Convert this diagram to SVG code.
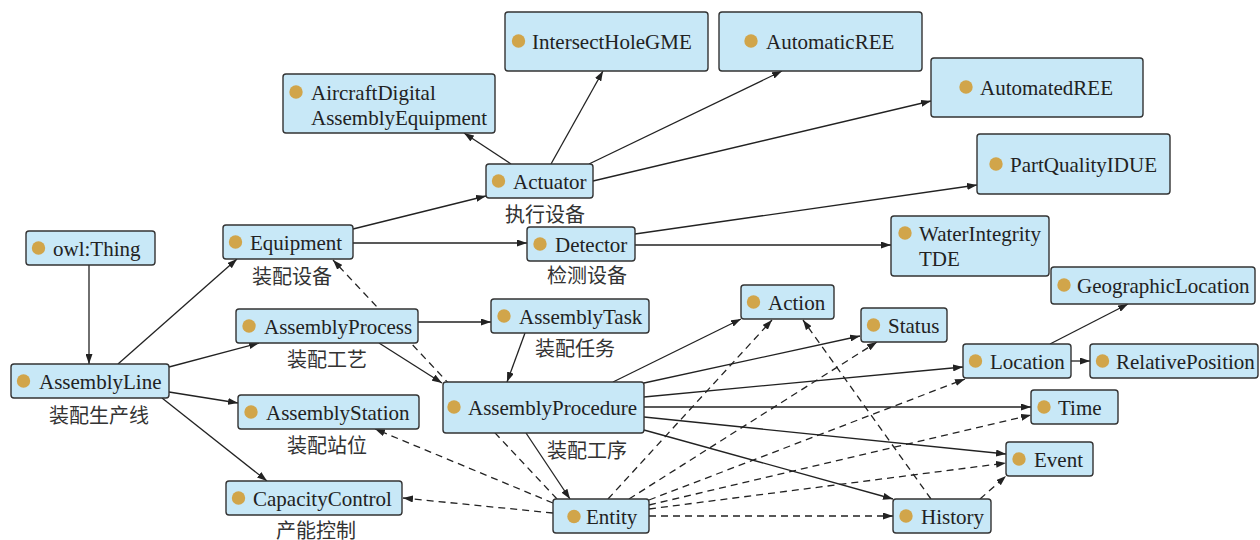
<svg xmlns="http://www.w3.org/2000/svg" width="1260" height="540" viewBox="0 0 1260 540">
  <defs>
    <marker id="arrow" viewBox="0 0 10 7" refX="10" refY="3.5" markerWidth="10" markerHeight="7" markerUnits="userSpaceOnUse" orient="auto">
      <path d="M0,0 L10,3.5 L0,7 z" fill="#222"/>
    </marker>
    <style>
      .edge { stroke: #222; stroke-width: 1.3; fill: none; marker-end: url(#arrow); }
      .dash { stroke-dasharray: 7 5; }
      .box { fill: #c8e8f7; stroke: #333; stroke-width: 1.4; }
      .dot { fill: #d1a54a; }
      .name { font-family: "Liberation Serif", "Times New Roman", serif; font-size: 21px; fill: #222; }
      .cn { font-family: "Liberation Serif", "Noto Sans CJK SC", sans-serif; font-size: 20px; fill: #333; text-anchor: middle; }
    </style>
  </defs>
  <rect width="1260" height="540" fill="#ffffff"/>

  <!-- connectors -->
  <g id="connectors">
    <line class="edge" x1="89" y1="265" x2="89" y2="364"/>
    <line class="edge" x1="118" y1="364" x2="237" y2="259"/>
    <line class="edge" x1="169" y1="367" x2="259" y2="343"/>
    <line class="edge" x1="169" y1="392" x2="238" y2="403"/>
    <line class="edge" x1="162" y1="398" x2="267" y2="481"/>
    <line class="edge" x1="353" y1="229" x2="486" y2="196"/>
    <line class="edge" x1="353" y1="243" x2="527" y2="243"/>
    <line class="edge" x1="511" y1="164" x2="464" y2="133"/>
    <line class="edge" x1="551" y1="164" x2="603" y2="71"/>
    <line class="edge" x1="589" y1="164" x2="782" y2="71"/>
    <line class="edge" x1="593" y1="181" x2="931" y2="101"/>
    <line class="edge" x1="635" y1="234" x2="977" y2="185"/>
    <line class="edge" x1="635" y1="245" x2="891" y2="245"/>
    <line class="edge" x1="418" y1="322" x2="491" y2="322"/>
    <line class="edge" x1="379" y1="343" x2="442" y2="383"/>
    <line class="edge" x1="525" y1="333" x2="507" y2="382"/>
    <line class="edge" x1="526" y1="433" x2="570" y2="499"/>
    <line class="edge" x1="613" y1="382" x2="741" y2="319"/>
    <line class="edge" x1="644" y1="383" x2="860" y2="336"/>
    <line class="edge" x1="644" y1="397" x2="963" y2="367"/>
    <line class="edge" x1="644" y1="407" x2="1031" y2="407"/>
    <line class="edge" x1="644" y1="417" x2="1006" y2="454"/>
    <line class="edge" x1="644" y1="430" x2="893" y2="499"/>
    <line class="edge" x1="1050" y1="344" x2="1128" y2="304"/>
    <line class="edge" x1="1071" y1="361" x2="1090" y2="361"/>

    <line class="edge dash" x1="557" y1="499" x2="333" y2="260"/>
    <line class="edge dash" x1="553" y1="503" x2="375" y2="429"/>
    <line class="edge dash" x1="553" y1="513" x2="403" y2="498"/>
    <line class="edge dash" x1="608" y1="499" x2="772" y2="320"/>
    <line class="edge dash" x1="629" y1="499" x2="877" y2="342"/>
    <line class="edge dash" x1="649" y1="500" x2="965" y2="379"/>
    <line class="edge dash" x1="649" y1="505" x2="1031" y2="415"/>
    <line class="edge dash" x1="649" y1="509" x2="1006" y2="463"/>
    <line class="edge dash" x1="649" y1="516" x2="893" y2="516"/>
    <line class="edge dash" x1="931" y1="499" x2="803" y2="320"/>
    <line class="edge dash" x1="980" y1="499" x2="1006" y2="476"/>
  </g>

  <!-- nodes -->
  <g id="owl-thing">
    <rect class="box" x="26" y="231" width="129" height="34" rx="3"/>
    <circle class="dot" cx="38.5" cy="248" r="6.7"/>
    <text class="name" x="53" y="255.5">owl:Thing</text>
  </g>
  <g id="assembly-line">
    <rect class="box" x="11" y="364" width="158" height="34" rx="3"/>
    <circle class="dot" cx="23.5" cy="381" r="6.7"/>
    <text class="name" x="39" y="388.5">AssemblyLine</text>
    <text class="cn" x="99" y="422.5">装配生产线</text>
  </g>
  <g id="equipment">
    <rect class="box" x="223" y="225" width="130" height="34" rx="3"/>
    <circle class="dot" cx="235.5" cy="242" r="6.7"/>
    <text class="name" x="250" y="249.5">Equipment</text>
    <text class="cn" x="292" y="284">装配设备</text>
  </g>
  <g id="assembly-process">
    <rect class="box" x="236" y="309" width="182" height="34" rx="3"/>
    <circle class="dot" cx="249" cy="326" r="6.7"/>
    <text class="name" x="264" y="333.5">AssemblyProcess</text>
    <text class="cn" x="327" y="366.5">装配工艺</text>
  </g>
  <g id="assembly-station">
    <rect class="box" x="238" y="395" width="181" height="34" rx="3"/>
    <circle class="dot" cx="251" cy="412" r="6.7"/>
    <text class="name" x="266" y="419.5">AssemblyStation</text>
    <text class="cn" x="327" y="453">装配站位</text>
  </g>
  <g id="capacity-control">
    <rect class="box" x="226" y="481" width="176" height="34" rx="3"/>
    <circle class="dot" cx="238.5" cy="498" r="6.7"/>
    <text class="name" x="253" y="505.5">CapacityControl</text>
    <text class="cn" x="316" y="537.5">产能控制</text>
  </g>
  <g id="assembly-task">
    <rect class="box" x="491" y="299" width="158" height="34" rx="3"/>
    <circle class="dot" cx="504" cy="316" r="6.7"/>
    <text class="name" x="519" y="323.5">AssemblyTask</text>
    <text class="cn" x="575" y="355.5">装配任务</text>
  </g>
  <g id="assembly-procedure">
    <rect class="box" x="443" y="382" width="201" height="51" rx="3"/>
    <circle class="dot" cx="454" cy="407" r="6.7"/>
    <text class="name" x="468" y="414.5">AssemblyProcedure</text>
    <text class="cn" x="587" y="458">装配工序</text>
  </g>
  <g id="entity">
    <rect class="box" x="553" y="499" width="96" height="34" rx="3"/>
    <circle class="dot" cx="574" cy="516.5" r="6.7"/>
    <text class="name" x="586" y="524">Entity</text>
  </g>
  <g id="actuator">
    <rect class="box" x="486" y="164" width="107" height="34" rx="3"/>
    <circle class="dot" cx="498.5" cy="181" r="6.7"/>
    <text class="name" x="513" y="188.5">Actuator</text>
    <text class="cn" x="545" y="221.5">执行设备</text>
  </g>
  <g id="detector">
    <rect class="box" x="527" y="227" width="108" height="34" rx="3"/>
    <circle class="dot" cx="540" cy="244" r="6.7"/>
    <text class="name" x="555" y="251.5">Detector</text>
    <text class="cn" x="587" y="282.5">检测设备</text>
  </g>
  <g id="aircraft-digital-assembly-equipment">
    <rect class="box" x="283" y="74" width="212" height="59" rx="3"/>
    <circle class="dot" cx="296" cy="92" r="6.7"/>
    <text class="name" x="311" y="99.5">AircraftDigital</text>
    <text class="name" x="311" y="124.5">AssemblyEquipment</text>
  </g>
  <g id="intersect-hole-gme">
    <rect class="box" x="505" y="12" width="203" height="59" rx="3"/>
    <circle class="dot" cx="518.5" cy="41" r="6.7"/>
    <text class="name" x="532" y="48.5">IntersectHoleGME</text>
  </g>
  <g id="automatic-ree">
    <rect class="box" x="719" y="12" width="203" height="59" rx="3"/>
    <circle class="dot" cx="751" cy="41" r="6.7"/>
    <text class="name" x="766" y="48.5">AutomaticREE</text>
  </g>
  <g id="automated-ree">
    <rect class="box" x="931" y="58" width="212" height="59" rx="3"/>
    <circle class="dot" cx="966" cy="87" r="6.7"/>
    <text class="name" x="980" y="94.5">AutomatedREE</text>
  </g>
  <g id="part-quality-idue">
    <rect class="box" x="977" y="134" width="193" height="60" rx="3"/>
    <circle class="dot" cx="996" cy="164" r="6.7"/>
    <text class="name" x="1010" y="171.5">PartQualityIDUE</text>
  </g>
  <g id="water-integrity-tde">
    <rect class="box" x="891" y="216" width="158" height="60" rx="3"/>
    <circle class="dot" cx="905" cy="233" r="6.7"/>
    <text class="name" x="919" y="240.5">WaterIntegrity</text>
    <text class="name" x="919" y="265.5">TDE</text>
  </g>
  <g id="geographic-location">
    <rect class="box" x="1051" y="267" width="204" height="37" rx="3"/>
    <circle class="dot" cx="1064" cy="285" r="6.7"/>
    <text class="name" x="1077" y="292.5">GeographicLocation</text>
  </g>
  <g id="action">
    <rect class="box" x="741" y="285" width="93" height="34" rx="3"/>
    <circle class="dot" cx="753.5" cy="302" r="6.7"/>
    <text class="name" x="768" y="309.5">Action</text>
  </g>
  <g id="status">
    <rect class="box" x="861" y="308" width="86" height="34" rx="3"/>
    <circle class="dot" cx="873.5" cy="325" r="6.7"/>
    <text class="name" x="888" y="332.5">Status</text>
  </g>
  <g id="location">
    <rect class="box" x="963" y="344" width="108" height="34" rx="3"/>
    <circle class="dot" cx="975.5" cy="361" r="6.7"/>
    <text class="name" x="990" y="368.5">Location</text>
  </g>
  <g id="relative-position">
    <rect class="box" x="1090" y="344" width="168" height="34" rx="3"/>
    <circle class="dot" cx="1102.5" cy="361" r="6.7"/>
    <text class="name" x="1116" y="368.5">RelativePosition</text>
  </g>
  <g id="time">
    <rect class="box" x="1031" y="390" width="87" height="34" rx="3"/>
    <circle class="dot" cx="1044" cy="407" r="6.7"/>
    <text class="name" x="1058" y="414.5">Time</text>
  </g>
  <g id="event">
    <rect class="box" x="1006" y="442" width="87" height="34" rx="3"/>
    <circle class="dot" cx="1019" cy="459" r="6.7"/>
    <text class="name" x="1034" y="466.5">Event</text>
  </g>
  <g id="history">
    <rect class="box" x="893" y="499" width="98" height="34" rx="3"/>
    <circle class="dot" cx="906" cy="516" r="6.7"/>
    <text class="name" x="921" y="523.5">History</text>
  </g>
</svg>
